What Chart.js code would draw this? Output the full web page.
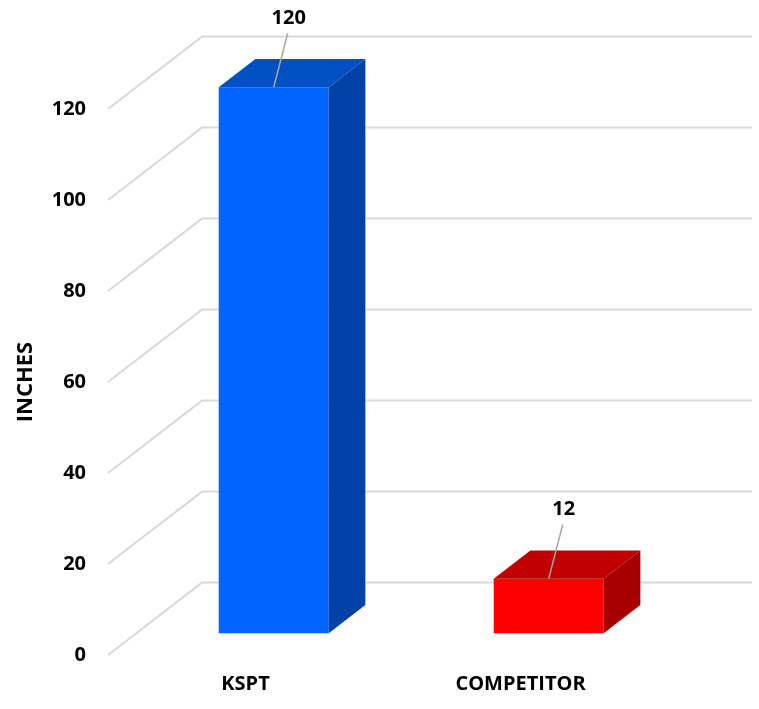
<!DOCTYPE html>
<html>
<head>
<meta charset="utf-8">
<script src="https://cdn.jsdelivr.net/npm/chart.js@4.4.0/dist/chart.umd.min.js"></script>
<style>
  html, body { margin: 0; padding: 0; background: #fff; }
  #contenedor { width: 759px; height: 709px; }
</style>
</head>
<body>
<div id="contenedor"><canvas id="grafica"></canvas></div>
<script>
// datos de la grafica
const categorias = ['KSPT', 'COMPETITOR'];
const pulgadas = [120, 12];
const marcasEje = [0, 20, 40, 60, 80, 100, 120];

// colores de cada cara de las barras
const colorFrente = ['#0064ff', '#ff0000'];
const colorTapa = ['#0050c4', '#c00000'];
const colorLado = ['#0042a6', '#a60000'];

// profundidad del piso (del borde frontal a la pared del fondo)
const profundidad = { dx: 94, dy: -72.4 };
const frente = 0.3;  // donde empieza la barra dentro de esa profundidad
const fondo = 0.69;  // donde termina

const fuente = '"Open Sans"';

// dibuja la rejilla en perspectiva y las caras superior y lateral de cada barra
const cubo3d = {
  id: 'cubo3d',
  beforeDatasetsDraw(chart) {
    const { ctx, chartArea, scales: { y } } = chart;
    ctx.save();
    ctx.strokeStyle = '#d9d9d9';
    ctx.lineWidth = 2;
    y.ticks.forEach(t => {
      const py = y.getPixelForValue(t.value);
      ctx.beginPath();
      ctx.moveTo(chartArea.left, py);
      ctx.lineTo(chartArea.left + profundidad.dx, py + profundidad.dy);
      ctx.lineTo(chartArea.right + profundidad.dx, py + profundidad.dy);
      ctx.stroke();
    });
    ctx.restore();

    // las barras se dibujan un poco hacia adentro del piso
    ctx.save();
    ctx.translate(profundidad.dx * frente, profundidad.dy * frente);
  },
  afterDatasetsDraw(chart) {
    const { ctx } = chart;
    const ddx = profundidad.dx * (fondo - frente);
    const ddy = profundidad.dy * (fondo - frente);
    const valores = chart.data.datasets[0].data;

    chart.getDatasetMeta(0).data.forEach((barra, i) => {
      const { x, y, base, width } = barra.getProps(['x', 'y', 'base', 'width'], true);
      const izq = x - width / 2;
      const der = x + width / 2;

      // tapa
      ctx.fillStyle = colorTapa[i];
      ctx.beginPath();
      ctx.moveTo(izq, y);
      ctx.lineTo(izq + ddx, y + ddy);
      ctx.lineTo(der + ddx, y + ddy);
      ctx.lineTo(der, y);
      ctx.closePath();
      ctx.fill();

      // lado derecho
      ctx.fillStyle = colorLado[i];
      ctx.beginPath();
      ctx.moveTo(der, y);
      ctx.lineTo(der + ddx, y + ddy);
      ctx.lineTo(der + ddx, base + ddy);
      ctx.lineTo(der, base);
      ctx.closePath();
      ctx.fill();

      // linea guia y etiqueta con el valor
      ctx.strokeStyle = '#a6a6a6';
      ctx.lineWidth = 1.5;
      ctx.beginPath();
      ctx.moveTo(x, y);
      ctx.lineTo(x + 14, y - 54);
      ctx.stroke();

      ctx.fillStyle = '#000';
      ctx.font = `bold 20px ${fuente}`;
      ctx.textAlign = 'center';
      ctx.textBaseline = 'middle';
      ctx.fillText(String(valores[i]), x + 15, y - 69);
    });
    ctx.restore();
  }
};

const config = {
  type: 'bar',
  data: {
    labels: categorias,
    datasets: [{
      data: pulgadas,
      backgroundColor: colorFrente,
      borderWidth: 0,
      barPercentage: 0.4,
      categoryPercentage: 1,
      clip: false
    }]
  },
  options: {
    responsive: true,
    maintainAspectRatio: false,
    animation: false,
    layout: { padding: { left: 0, right: 101, top: 109, bottom: 0 } },
    plugins: {
      legend: { display: false },
      tooltip: { enabled: false }
    },
    scales: {
      x: {
        grid: { display: false, drawTicks: false },
        border: { display: false },
        ticks: {
          color: '#000',
          font: { family: fuente, size: 20, weight: 'bold' },
          padding: 17,
          maxRotation: 0
        },
        afterFit: s => { s.height = 54; }
      },
      y: {
        min: 0,
        max: 120,
        grid: { display: false, drawTicks: false },
        border: { display: false },
        ticks: {
          color: '#000',
          font: { family: fuente, size: 20, weight: 'bold' },
          padding: 22
        },
        afterBuildTicks: s => { s.ticks = marcasEje.map(v => ({ value: v })); },
        title: {
          display: true,
          text: 'INCHES',
          color: '#000',
          font: { family: fuente, size: 22, weight: 'bold' },
          padding: { top: 13, bottom: 0 }
        },
        afterFit: s => { s.width = 108; }
      }
    }
  },
  plugins: [cubo3d]
};

new Chart(document.getElementById('grafica'), config);
</script>
</body>
</html>
